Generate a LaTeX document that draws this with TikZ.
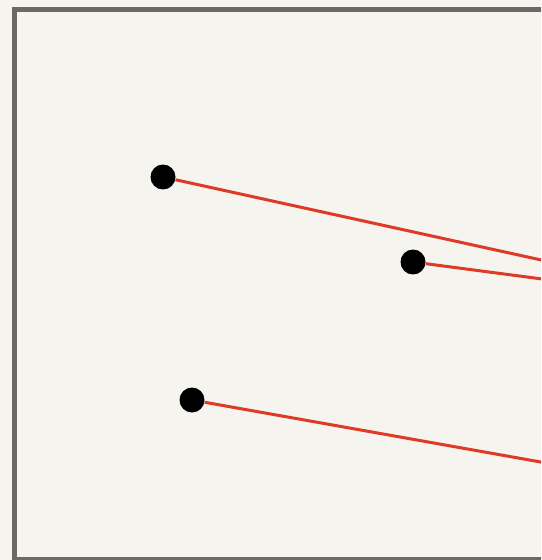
\documentclass[tikz,border=0pt]{standalone}
\usepackage{xcolor}
\usepackage{tikz}
\definecolor{papercream}{RGB}{246, 244, 238}
\definecolor{framegray}{RGB}{108, 106, 102}
\definecolor{wirered}{RGB}{222, 58, 38}
\tikzset{
  pin/.style={circle, fill=black, inner sep=0pt, minimum size=0.5cm},
  wire/.style={wirered, line width=0.06cm},
}
\begin{document}
\begin{tikzpicture}[x=0.02cm, y=-0.02cm]
        \useasboundingbox (0,0) rectangle (541,560);
        \clip (0,0) rectangle (541,560);
        \fill[papercream] (0,0) rectangle (541,560);
        \draw[framegray, line width=0.1cm] (14.5,9.5) rectangle (620,559);
        % pins and the wires running off to the right
        \node[pin] (upper) at (163,177) {};
        \node[pin] (middle) at (413,262) {};
        \node[pin] (lower) at (192,400) {};
        \coordinate (upperend) at (580,268.5);
        \coordinate (middleend) at (580,284);
        \coordinate (lowerend) at (580,469);
        \draw[wire] (upper) -- (upperend);
        \draw[wire] (middle) -- (middleend);
        \draw[wire] (lower) -- (lowerend);
      \end{tikzpicture}
\end{document}
